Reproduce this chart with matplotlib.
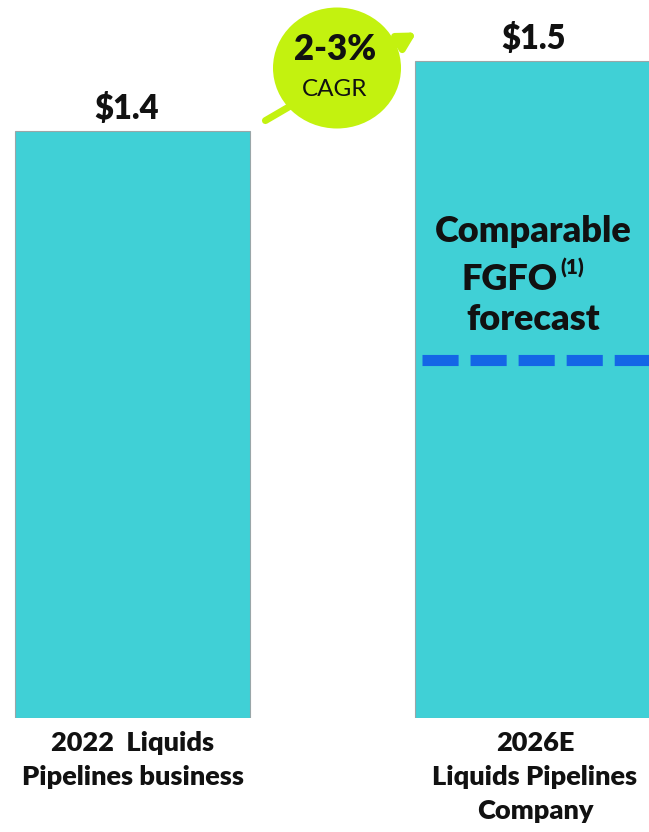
import matplotlib
matplotlib.use("Agg")
import matplotlib.pyplot as plt
from matplotlib.patches import Ellipse, FancyArrowPatch

categories = ["2022  Liquids\nPipelines business", "2026E\nLiquids Pipelines\nCompany"]
values = [1.4, 1.5]
value_labels = ["$1.4", "$1.5"]
cagr_text = "2-3%"
cagr_sub = "CAGR"
forecast_lines = ["Comparable", "FGFO", "(1)", "forecast"]

W, H = 649, 832
plt.rcParams['font.family'] = ['Lato', 'DejaVu Sans']
fig = plt.figure(figsize=(W / 100, H / 100), dpi=100)
BW = "heavy"

def fx(x):
    return x / W

def fy(y):
    return 1 - y / H

bottom_px = 718
ax = fig.add_axes([0, fy(bottom_px), 1, 1 - fy(bottom_px)])
ax.set_axis_off()
ppu = 700.0
ymin = 1.4 - (bottom_px - 131) / ppu
ymax = 1.5 + 61 / ppu
ax.set_ylim(ymin, ymax)
unit = 399.5
ax.set_xlim(-132.5 / unit, 1 + (W - 532) / unit)

xs = [0, 1]
bars = ax.bar(xs, [v - ymin for v in values], bottom=ymin, width=235 / unit,
              color="#40D0D6", edgecolor="#9AA6A8", linewidth=0.8)

label_dx = [-6, 2]
for x, v, lab, dx in zip(xs, values, value_labels, label_dx):
    ax.annotate(lab, (x, v), xytext=(dx, 12), textcoords="offset pixels",
                ha="center", va="baseline", fontsize=23.5, fontweight=BW, color="#111111")

cat_dx = [0, 3]
for x, cat, dx in zip(xs, categories, cat_dx):
    ax.annotate(cat, (x, ymin), xytext=(dx, -13), textcoords="offset pixels",
                ha="center", va="top", fontsize=19.5, fontweight=BW,
                color="#111111", linespacing=1.5, annotation_clip=False)

ax.plot([1 - 110 / unit, 1 + 117 / unit], [1.5 - (360 - 61) / ppu] * 2,
        color="#1466E6", linewidth=8, linestyle=(0, (26 / 8, 8.6 / 8)),
        solid_capstyle="butt", dash_capstyle="butt")

tx = fx(533)
fig.text(tx, fy(232), forecast_lines[0], ha="center", va="center", fontsize=26,
         fontweight=BW, color="#111111")
fig.text(fx(558), fy(279), forecast_lines[1], ha="right", va="center", fontsize=26,
         fontweight=BW, color="#111111")
fig.text(fx(560), fy(268), forecast_lines[2], ha="left", va="center", fontsize=15,
         fontweight=BW, color="#111111")
fig.text(tx, fy(320), forecast_lines[3], ha="center", va="center", fontsize=26,
         fontweight=BW, color="#111111")

lime = "#C3F20F"
arrow = FancyArrowPatch((fx(263), fy(122)), (fx(419), fy(31)), transform=fig.transFigure,
                        arrowstyle="-|>,head_length=10,head_width=5.5", mutation_scale=1,
                        color=lime, linewidth=5, zorder=5)
fig.add_artist(arrow)
circ = Ellipse((fx(337), fy(68)), width=128 / W, height=121 / H, transform=fig.transFigure,
               facecolor=lime, edgecolor="none", zorder=6)
fig.add_artist(circ)
fig.text(fx(335), fy(49), cagr_text, ha="center", va="center", fontsize=25,
         fontweight=BW, color="#111111", zorder=7)
fig.text(fx(335), fy(90), cagr_sub, ha="center", va="center", fontsize=17.5,
         color="#111111", zorder=7)

fig.savefig("out.png", dpi=100)
